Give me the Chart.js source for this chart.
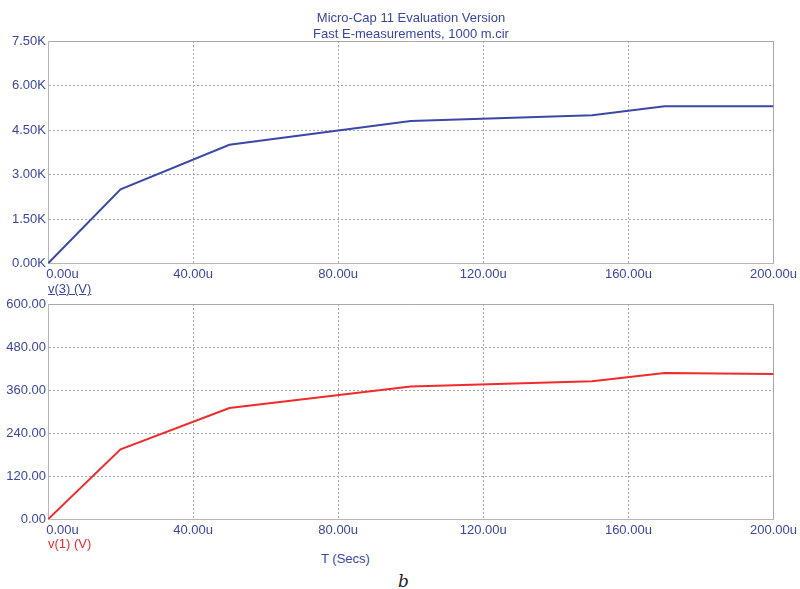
<!DOCTYPE html>
<html>
<head>
<meta charset="utf-8">
<script src="https://cdn.jsdelivr.net/npm/chart.js@4/dist/chart.umd.min.js"></script>
<style>
    body { margin: 0; background: #fff; }
    #wrap { position: relative; width: 800px; height: 589px; background: #fff; font-family: "Liberation Sans", Arial, sans-serif; }
    #wrap canvas { position: absolute; left: 0; }
    .lbl { position: absolute; font-size: 13px; color: #3a47a0; white-space: nowrap; line-height: 15px; }
</style>
</head>
<body>
<div id="wrap">
    <canvas id="topChart" width="800" height="300" style="top:0"></canvas>
    <canvas id="bottomChart" width="800" height="260" style="top:290px"></canvas>
    <div class="lbl" style="left:411px; top:10px; line-height:16px; transform:translateX(-50%); text-align:center;">Micro-Cap 11 Evaluation Version<br>Fast E-measurements, 1000 m.cir</div>
    <div class="lbl" style="left:48px; top:281px; text-decoration:underline;">v(3) (V)</div>
    <div class="lbl" style="left:48px; top:536px; color:#ee2a2a;">v(1) (V)</div>
    <div class="lbl" style="left:321px; top:551px;">T (Secs)</div>
    <div class="lbl" style="left:398px; top:574px; color:#222; font-family:'DejaVu Serif', serif; font-style:italic; font-size:17px;">b</div>
</div>
<script>
// time in microseconds
const timeUs = [0, 20, 50, 100, 150, 170, 200];
const v3 = [0, 2500, 4000, 4800, 5000, 5300, 5300];
const v1 = [0, 195, 310, 370, 385, 408, 405];

const xTicksUs = [0, 40, 80, 120, 160, 200];

const textBlue = '#3a47a0';
const gridGray = '#a8a8a8';
const frameGray = '#b8b8b8';

function makeChart(id, values, color, yMax, yStep, yFmt, padTop, xAxisHeight) {
    return new Chart(document.getElementById(id), {
        type: 'line',
        data: {
            datasets: [{
                data: timeUs.map((t, i) => ({ x: t, y: values[i] })),
                borderColor: color,
                borderWidth: 2,
                pointRadius: 0,
                tension: 0,
                fill: false
            }]
        },
        options: {
            responsive: false,
            animation: false,
            layout: { padding: { top: padTop, right: 25, left: 0, bottom: 0 } },
            plugins: { legend: { display: false }, tooltip: { enabled: false } },
            scales: {
                x: {
                    type: 'linear',
                    min: 0,
                    max: 200,
                    afterBuildTicks: (scale) => { scale.ticks = xTicksUs.map(v => ({ value: v })); },
                    afterFit: (scale) => { scale.height = xAxisHeight; },
                    grid: { color: gridGray, drawTicks: false, lineWidth: 1 },
                    border: {
                        color: frameGray,
                        dash: (ctx) => (ctx.tick && (ctx.tick.value === 0 || ctx.tick.value === 200)) ? [] : [2, 2]
                    },
                    ticks: {
                        color: textBlue,
                        padding: 3,
                        maxRotation: 0,
                        autoSkip: false,
                        font: { family: 'Liberation Sans', size: 13 },
                        // first label sits to the right of the tick
                        callback: (v) => v === 0 ? '\u2007\u2007\u2007\u2007' + v.toFixed(2) + 'u' : v.toFixed(2) + 'u'
                    }
                },
                y: {
                    min: 0,
                    max: yMax,
                    afterFit: (scale) => { scale.width = 48; },
                    grid: { color: gridGray, drawTicks: false, lineWidth: 1 },
                    border: {
                        color: frameGray,
                        dash: (ctx) => (ctx.tick && (ctx.tick.value === 0 || ctx.tick.value === yMax)) ? [] : [2, 2]
                    },
                    ticks: {
                        stepSize: yStep,
                        color: textBlue,
                        padding: 2,
                        font: { family: 'Liberation Sans', size: 13 },
                        callback: yFmt
                    }
                }
            }
        }
    });
}

makeChart('topChart', v3, '#3b48a4', 7500, 1500, (v) => (v / 1000).toFixed(2) + 'K', 41, 36.5);
makeChart('bottomChart', v1, '#ef2b2b', 600, 120, (v) => v.toFixed(2), 14, 30.7);
</script>
</body>
</html>
